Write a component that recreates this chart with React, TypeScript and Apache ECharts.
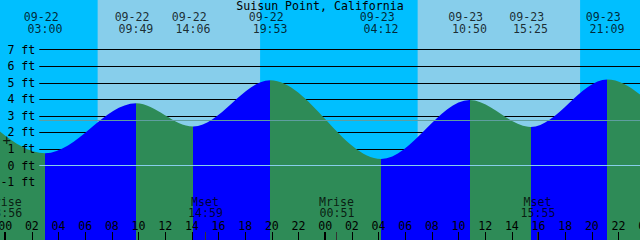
import React, { useEffect, useRef } from 'react';
import * as echarts from 'echarts';

// ---------- data ----------
const title = 'Suisun Point, California';
// tide turning points (first two and last two lie outside the visible window)
const tideTimes = [
  '09-21 12:50', '09-21 17:50',
  '09-22 03:00', '09-22 09:49', '09-22 14:06', '09-22 19:53',
  '09-23 04:12', '09-23 10:50', '09-23 15:25', '09-23 21:09',
  '09-24 06:00', '09-24 12:00',
];
const tideHeights = [2.4, 5.0, 0.74, 3.76, 2.35, 5.15, 0.4, 3.96, 2.33, 5.2, 0.3, 4.1];
const moonNames = ['Mrise', 'Mset', 'Mrise', 'Mset'];
const moonTimes = ['09-21 23:56', '09-22 14:59', '09-23 00:51', '09-23 15:55'];
const sunriseTimes = ['09-22 06:56', '09-23 06:56'];
const sunsetTimes = ['09-22 19:07', '09-23 19:07'];
const heightTicks = [-1, 0, 1, 2, 3, 4, 5, 6, 7];
const datumLevels = [0, 2.73];
const markPoint = { time: '09-22 00:07', height: 1.54 };

// ---------- styles / layout ----------
const W = 640;
const H = 240;
const FONT = 'DejaVu Sans Mono';
const FS = 11.6;
const NIGHT = '#00BFFF';
const DAY = '#87CEEB';
const FLOOD = '#0000FF';
const EBB = '#2E8B57';
const DATUM_COLORS = ['#87CEEB', '#5F9EA0'];
const MIDNIGHT_X = 5.2;
const PX_PER_HOUR = W / 48;
const VIEW_START = -MIDNIGHT_X / PX_PER_HOUR;
const VIEW_END = VIEW_START + 48;
const Y_MIN = -4.5;
const Y_MAX = 10;
const PX_PER_FT = H / (Y_MAX - Y_MIN);
const GRID_LEFT = 39.3;

function toHours(s: string): number {
  const [md, hm] = s.split(' ');
  const day = Number(md.split('-')[1]);
  const [h, m] = hm.split(':').map(Number);
  return (day - 22) * 24 + h + m / 60;
}
const pad2 = (n: number) => String(n).padStart(2, '0');

export default function App() {
  const ref = useRef<HTMLDivElement>(null);
  useEffect(() => {
    if (!ref.current) return;
    const chart = echarts.init(ref.current, undefined, { renderer: 'svg' });

    const tideHours = tideTimes.map(toHours);
    const tideData = tideHours.map((t, i) => [t, tideHeights[i]]);
    const rising = (i: number) => tideHeights[i + 1] > tideHeights[i];
    const pieces: any[] = [];
    pieces.push({ lt: tideHours[0], color: rising(0) ? EBB : FLOOD });
    for (let i = 0; i < tideHours.length - 1; i++) {
      pieces.push({ gte: tideHours[i], lt: tideHours[i + 1], color: rising(i) ? FLOOD : EBB });
    }
    const last = tideHours.length - 2;
    pieces.push({ gte: tideHours[tideHours.length - 1], color: rising(last) ? EBB : FLOOD });

    const visible = tideTimes
      .map((s, i) => ({ s, t: tideHours[i] }))
      .filter((e) => e.t >= VIEW_START && e.t <= VIEW_END);

    const moonHours = moonTimes.map(toHours);
    const dayAreas = sunriseTimes.map((s, i) => [
      { xAxis: toHours(s) },
      { xAxis: toHours(sunsetTimes[i]) },
    ]);

    const textStyle = { fontFamily: FONT, fontSize: FS, color: '#000' };
    const labelSeries = (data: any[], offset: number[], extra: any = {}) => ({
      type: 'scatter',
      xAxisIndex: 0,
      yAxisIndex: 0,
      data,
      symbolSize: 1,
      itemStyle: { color: 'rgba(0,0,0,0)' },
      clip: false,
      silent: true,
      z: 10,
      label: {
        show: true,
        position: 'inside',
        align: 'center',
        verticalAlign: 'middle',
        offset,
        formatter: '{b}',
        lineHeight: 10,
        ...textStyle,
        ...extra,
      },
    });

    const g1Top = (Y_MAX - 7) * PX_PER_FT;
    const g1H = 8 * PX_PER_FT;

    chart.setOption({
      animation: false,
      backgroundColor: NIGHT,
      title: {
        text: title,
        left: 'center',
        top: 0,
        padding: 0,
        textStyle: { ...textStyle, fontWeight: 'normal', lineHeight: 11 },
      },
      visualMap: { type: 'piecewise', show: false, dimension: 0, seriesIndex: 0, pieces },
      grid: [
        { left: 0, top: 0, width: W, height: H, containLabel: false, outerBoundsMode: 'none' },
        { left: GRID_LEFT, top: g1Top, width: W - GRID_LEFT, height: g1H, containLabel: false, outerBoundsMode: 'none' },
        { left: MIDNIGHT_X, top: 0, width: W, height: H, containLabel: false, outerBoundsMode: 'none' },
      ],
      xAxis: [
        {
          gridIndex: 0, type: 'value', position: 'bottom', min: VIEW_START, max: VIEW_END,
          axisLine: { show: false, onZero: false }, axisLabel: { show: false }, splitLine: { show: false },
          axisTick: { show: true, inside: true, length: 8, customValues: moonHours, lineStyle: { color: '#333', width: 1 } },
          z: 10,
        },
        { gridIndex: 1, type: 'value', position: 'bottom', min: 0, max: 1, show: false, axisLine: { onZero: false } },
        {
          gridIndex: 2, type: 'value', position: 'bottom', min: 0, max: 48, interval: 2,
          axisLine: { show: false, onZero: false }, splitLine: { show: false },
          axisTick: { show: true, inside: true, length: 8, lineStyle: { color: '#000', width: 1 } },
          axisLabel: {
            show: true, inside: true, margin: 14.2, verticalAlign: 'middle', lineHeight: 10,
            formatter: (v: number) => pad2(v % 24), ...textStyle,
          },
          z: 10,
        },
        {
          gridIndex: 2, type: 'value', position: 'bottom', min: 0, max: 48, interval: 24,
          axisLine: { show: false, onZero: false }, splitLine: { show: false }, axisLabel: { show: false },
          axisTick: { show: true, inside: true, length: 8, lineStyle: { color: '#000', width: 2 } },
          z: 10,
        },
      ],
      yAxis: [
        { gridIndex: 0, type: 'value', min: Y_MIN, max: Y_MAX, show: false, axisLine: { onZero: false } },
        {
          gridIndex: 1, type: 'value', position: 'left',
          min: heightTicks[0], max: heightTicks[heightTicks.length - 1], interval: 1,
          axisLine: { show: false, onZero: false }, axisTick: { show: false }, axisLabel: { show: false },
          splitLine: { show: true, lineStyle: { color: '#000', width: 1 } },
        },
        {
          gridIndex: 1, type: 'value', position: 'left',
          min: heightTicks[0], max: heightTicks[heightTicks.length - 1], interval: 1,
          axisLine: { show: false, onZero: false }, axisTick: { show: false }, splitLine: { show: false },
          axisLabel: { show: true, margin: 4, lineHeight: 10, formatter: (v: number) => `${v} ft`, ...textStyle },
          z: 10,
        },
        { gridIndex: 2, type: 'value', min: 0, max: 1, show: false, axisLine: { onZero: false } },
      ],
      series: [
        {
          type: 'line', xAxisIndex: 0, yAxisIndex: 0,
          data: tideData,
          smooth: 0.34, smoothMonotone: 'x',
          showSymbol: false, symbol: 'none', silent: true,
          lineStyle: { width: 0 },
          areaStyle: { opacity: 1, origin: 'start' },
          z: 2,
          markArea: {
            silent: true, z: -1,
            itemStyle: { color: DAY, borderWidth: 0 },
            label: { show: false },
            data: dayAreas,
          },
        },
        {
          type: 'line', xAxisIndex: 1, yAxisIndex: 1, data: [], silent: true, z: 5,
          markLine: {
            silent: true, z: 5, symbol: ['none', 'none'], label: { show: false },
            data: datumLevels.map((v, i) => ({
              yAxis: v,
              lineStyle: { color: DATUM_COLORS[i], width: 1, type: 'solid' },
            })),
          },
        },
        labelSeries(visible.map((e) => ({ name: e.s.split(' ')[0], value: [e.t, Y_MAX] })), [-4, 17.2]),
        labelSeries(visible.map((e) => ({ name: e.s.split(' ')[1], value: [e.t, Y_MAX] })), [-0.2, 29.2]),
        labelSeries(moonNames.map((n, i) => ({ name: n, value: [moonHours[i], Y_MIN] })), [0, -38.3]),
        labelSeries(moonTimes.map((s, i) => ({ name: s.split(' ')[1], value: [moonHours[i], Y_MIN] })), [0.5, -26.8]),
        labelSeries([{ name: '+', value: [toHours(markPoint.time), markPoint.height] }], [0, 0], { fontSize: 14, lineHeight: 10 }),
      ],
    });
    return () => chart.dispose();
  }, []);
  return <div ref={ref} style={{ position: 'absolute', left: 0, top: 0, width: W, height: H }} />;
}
